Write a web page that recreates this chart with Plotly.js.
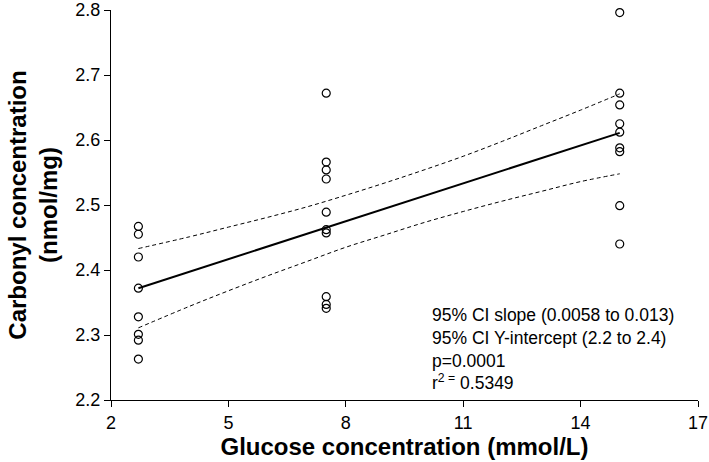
<!DOCTYPE html>
<html>
<head>
<meta charset="utf-8">
<script src="https://cdn.plot.ly/plotly-3.0.1.min.js"></script>
<style>
  html, body { margin: 0; padding: 0; background: #fff; }
  #chart { width: 709px; height: 462px; }
</style>
</head>
<body>
<div id="chart"></div>
<script>
// ---- Data ----
const glucoseLevels = [2.7, 7.5, 15];
const carbonylLow  = [2.467, 2.455, 2.420, 2.372, 2.328, 2.301, 2.292, 2.263];
const carbonylMid  = [2.672, 2.566, 2.554, 2.540, 2.489, 2.462, 2.457, 2.359, 2.347, 2.341];
const carbonylHigh = [2.796, 2.672, 2.654, 2.625, 2.612, 2.588, 2.582, 2.499, 2.440];

const fitX = [2.7, 15];
const fitY = [2.372, 2.611];

const ciX     = [2.7,   4,     5,     6,     7,     8,     9,     10,    11,    12,    13,    14,    15];
const ciUpper = [2.433, 2.451, 2.466, 2.481, 2.497, 2.515, 2.534, 2.554, 2.575, 2.598, 2.622, 2.646, 2.671];
const ciLower = [2.311, 2.344, 2.368, 2.391, 2.413, 2.435, 2.454, 2.473, 2.490, 2.506, 2.521, 2.536, 2.548];

const xTicks = [2, 5, 8, 11, 14, 17];
const yTicks = [2.2, 2.3, 2.4, 2.5, 2.6, 2.7, 2.8];

const statsLines = [
  "95% CI slope (0.0058 to 0.013)",
  "95% CI Y-intercept (2.2 to 2.4)",
  "p=0.0001",
  "r<sup>2 =</sup> 0.5349"
];

// ---- Build traces ----
const groups = [carbonylLow, carbonylMid, carbonylHigh];
const ptsX = [], ptsY = [];
groups.forEach((g, i) => g.forEach(v => { ptsX.push(glucoseLevels[i]); ptsY.push(v); }));

const FONT = "Liberation Sans, Arial, Helvetica, sans-serif";

const traces = [
  {
    x: ciX, y: ciUpper, type: "scatter", mode: "lines",
    line: { color: "#000", width: 1, dash: "4px,3px", shape: "spline" },
    hoverinfo: "skip", cliponaxis: false
  },
  {
    x: ciX, y: ciLower, type: "scatter", mode: "lines",
    line: { color: "#000", width: 1, dash: "4px,3px", shape: "spline" },
    hoverinfo: "skip", cliponaxis: false
  },
  {
    x: fitX, y: fitY, type: "scatter", mode: "lines",
    line: { color: "#000", width: 2 },
    cliponaxis: false
  },
  {
    x: ptsX, y: ptsY, type: "scatter", mode: "markers",
    marker: { symbol: "circle-open", size: 8, color: "#000", line: { width: 1.2, color: "#000" } },
    cliponaxis: false
  }
];

const layout = {
  width: 709, height: 462,
  margin: { l: 111, r: 11, t: 10, b: 62, pad: 0 },
  paper_bgcolor: "#fff", plot_bgcolor: "#fff",
  showlegend: false,
  font: { family: FONT, color: "#000" },
  xaxis: {
    range: [2, 17], tickvals: xTicks, ticktext: xTicks.map(String),
    showgrid: false, zeroline: false,
    showline: true, linecolor: "#000", linewidth: 1,
    ticks: "outside", ticklen: 6, tickwidth: 1, tickcolor: "#000",
    tickfont: { size: 18, family: FONT, color: "#000" },
    title: { text: "<b>Glucose concentration (mmol/L)</b>", font: { size: 24, family: FONT, color: "#000" }, standoff: 6 },
    automargin: false
  },
  yaxis: {
    range: [2.2, 2.8], tickvals: yTicks, ticktext: yTicks.map(v => v.toFixed(1)),
    showgrid: false, zeroline: false,
    showline: true, linecolor: "#000", linewidth: 1,
    ticks: "outside", ticklen: 6, tickwidth: 1, tickcolor: "#000",
    tickfont: { size: 18, family: FONT, color: "#000" },
    title: { text: "<b>Carbonyl concentration<br>(nmol/mg)</b>", font: { size: 24, family: FONT, color: "#000" }, standoff: 10 },
    automargin: false
  },
  annotations: [
    {
      xref: "paper", yref: "paper",
      x: (430 - 111) / 587, y: (400 - 303) / 390,
      xanchor: "left", yanchor: "top", align: "left",
      showarrow: false,
      text: statsLines.join("<br>"),
      font: { size: 17.5, family: FONT, color: "#000" }
    }
  ]
};

Plotly.newPlot("chart", traces, layout, { staticPlot: true, displayModeBar: false });
</script>
</body>
</html>
